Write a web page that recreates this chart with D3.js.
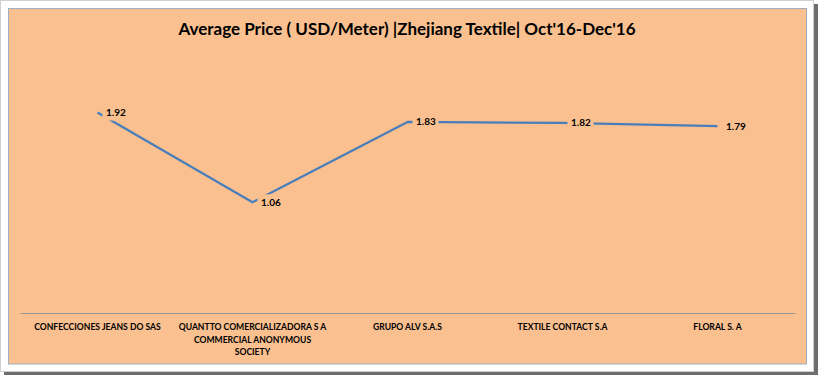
<!DOCTYPE html>
<html>
<head>
<meta charset="utf-8">
<script src="https://cdn.jsdelivr.net/npm/d3@7"></script>
<style>
  body { margin: 0; background: #ffffff; }
  svg { display: block; }
</style>
</head>
<body>
<svg id="chart"></svg>
<script>
// Chart data
const titleText = "Average Price ( USD/Meter) |Zhejiang Textile| Oct'16-Dec'16";
const companies = [
    ["CONFECCIONES JEANS DO SAS"],
    ["QUANTTO COMERCIALIZADORA S A", "COMMERCIAL ANONYMOUS", "SOCIETY"],
    ["GRUPO ALV S.A.S"],
    ["TEXTILE CONTACT S.A"],
    ["FLORAL S. A"]
];
const avgPrice = [1.92, 1.06, 1.83, 1.82, 1.79];

const width = 820, height = 377;
const bg = "#fac090";

const svg = d3.select("#chart")
    .attr("width", width)
    .attr("height", height);

// Outer frame with a drop shadow
svg.append("rect")
    .attr("x", 4).attr("y", 4)
    .attr("width", 814).attr("height", 371)
    .attr("fill", "#6e6e6e");
svg.append("rect")
    .attr("x", 0.5).attr("y", 0.5)
    .attr("width", 813).attr("height", 371)
    .attr("fill", "#ffffff")
    .attr("stroke", "#d0d0d0");

// Chart area
svg.append("rect")
    .attr("x", 8.5).attr("y", 8.5)
    .attr("width", 798).attr("height", 355.5)
    .attr("fill", bg)
    .attr("stroke", "#9fb0c4");

// Title
svg.append("text")
    .attr("x", 407)
    .attr("y", 35)
    .attr("text-anchor", "middle")
    .style("font-family", "Lato, 'Open Sans', sans-serif")
    .style("font-weight", "bold")
    .style("font-size", "17px")
    .attr("fill", "#000")
    .text(titleText);

// Scales
const x = d3.scaleBand()
    .domain(d3.range(companies.length))
    .range([20, 795]);

const y = d3.scaleLinear()
    .domain([0, 2.5])
    .range([313, 52]);

// Category axis
const xAxis = svg.append("g")
    .attr("transform", `translate(0, ${y(0)})`)
    .call(d3.axisBottom(x).tickSize(0).tickFormat(""));
xAxis.select(".domain").attr("stroke", "#9a9a9a").attr("stroke-width", 1);

const labels = svg.append("g")
    .selectAll("text")
    .data(companies)
    .enter()
    .append("text")
    .attr("x", (d, i) => x(i) + x.bandwidth() / 2)
    .attr("y", 330)
    .attr("text-anchor", "middle")
    .style("font-family", "Lato, 'Open Sans', sans-serif")
    .style("font-weight", "bold")
    .style("font-size", "8.6px")
    .attr("fill", "#000");

labels.selectAll("tspan")
    .data(d => d)
    .enter()
    .append("tspan")
    .attr("x", function () { return d3.select(this.parentNode).attr("x"); })
    .attr("dy", (d, i) => i === 0 ? 0 : 12.5)
    .text(d => d);

// Line
const line = d3.line()
    .x((d, i) => x(i) + x.bandwidth() / 2)
    .y(d => y(d));

svg.append("path")
    .datum(avgPrice)
    .attr("fill", "none")
    .attr("stroke", "#4a7ebb")
    .attr("stroke-width", 2.25)
    .attr("stroke-linejoin", "round")
    .attr("d", line);

// Data labels with a filled box that covers the line
const dl = svg.append("g")
    .selectAll("g")
    .data(avgPrice)
    .enter()
    .append("g")
    .attr("transform", (d, i) => `translate(${x(i) + x.bandwidth() / 2 + 5}, ${y(d)})`);

dl.append("rect")
    .attr("x", 0)
    .attr("y", -8)
    .attr("width", 26)
    .attr("height", 16)
    .attr("fill", bg);

dl.append("text")
    .attr("x", 3.5)
    .attr("y", 3.5)
    .style("font-family", "Lato, 'Open Sans', sans-serif")
    .style("font-weight", "bold")
    .style("font-size", "10px")
    .attr("fill", "#000")
    .text(d => d.toFixed(2));
</script>
</body>
</html>
